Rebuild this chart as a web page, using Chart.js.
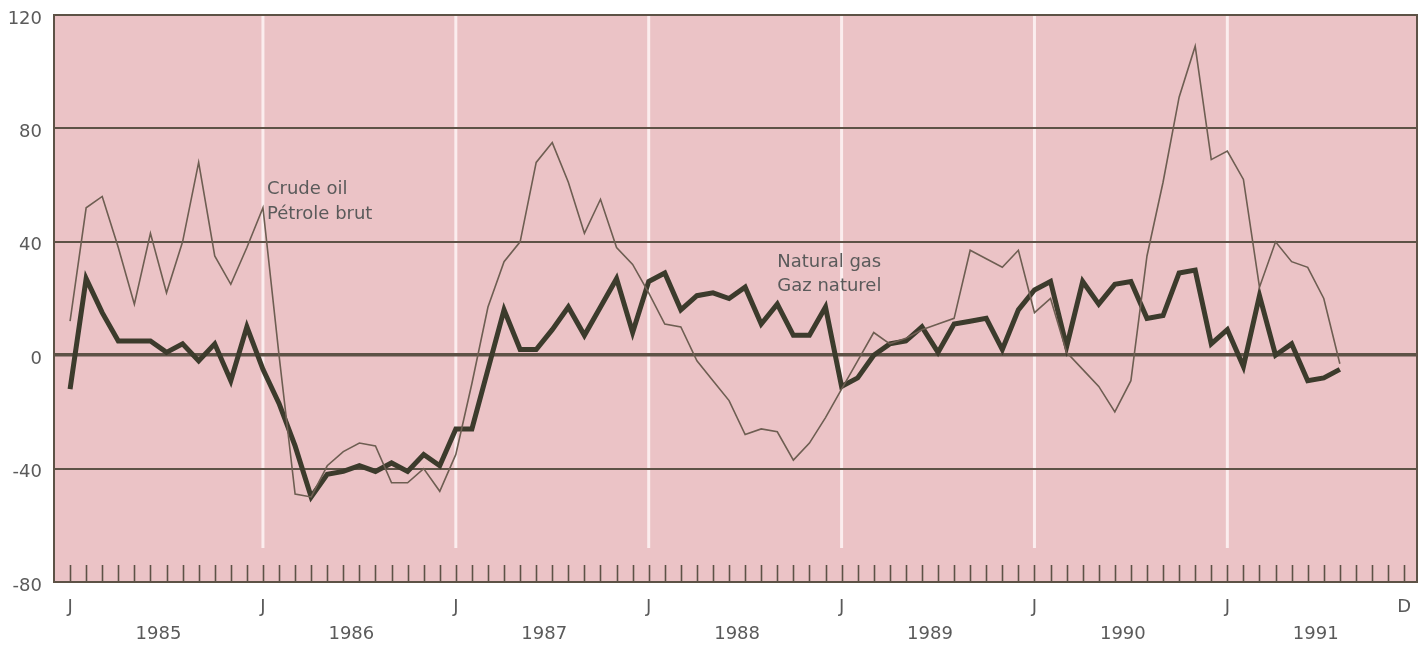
<!DOCTYPE html>
<html>
<head>
<meta charset="utf-8">
<script src="https://cdn.jsdelivr.net/npm/chart.js@4.4.0/dist/chart.umd.min.js"></script>
<style>
  html, body { margin: 0; padding: 0; background: #fff; }
  #chart { display: block; }
</style>
</head>
<body>
<canvas id="chart" width="1424" height="645"></canvas>
<script>
// Monthly values, January 1985 onwards
const crudeOil = [12, 52, 56, 38, 18, 43, 22, 40, 68, 35, 25, 38,
  52, 0, -49, -50, -39, -34, -31, -32, -45, -45, -40, -48,
  -35, -10, 17, 33, 40, 68, 75, 61, 43, 55, 38, 32,
  22, 11, 10, -2, -9, -16, -28, -26, -27, -37, -31, -22,
  -12, -2, 8, 4, 6, 9, 11, 13, 37, 34, 31, 37,
  15, 20, 1, -5, -11, -20, -9, 35, 61, 91, 109, 69,
  72, 62, 24, 40, 33, 31, 20, -3];
const naturalGas = [-12, 27, 15, 5, 5, 5, 1, 4, -2, 4, -9, 10,
  -5, -17, -32, -50, -42, -41, -39, -41, -38, -41, -35, -39,
  -26, -26, -5, 16, 2, 2, 9, 17, 7, 17, 27, 8,
  26, 29, 16, 21, 22, 20, 24, 11, 18, 7, 7, 17,
  -11, -8, 0, 4, 5, 10, 1, 11, 12, 13, 2, 16,
  23, 26, 3, 26, 18, 25, 26, 13, 14, 29, 30, 4,
  9, -4, 21, 0, 4, -9, -8, -5];
const years = ["1985", "1986", "1987", "1988", "1989", "1990", "1991"];
const monthTicks = ["J", "D"];
const yTicks = [-80, -40, 0, 40, 80, 120];

const MONTHS = years.length * 12;
const ink = "#5d5246";
const textColor = "#5a5a5a";
const font = { family: "'DejaVu Sans', sans-serif", size: 18 };

const toPoints = (arr) => arr.map((v, i) => ({ x: i, y: v }));

// keep the plot box fixed: no extra room reserved for overhanging labels
const noPad = (s) => {
  s.paddingTop = 0;
  s.paddingBottom = 0;
  s.paddingLeft = 0;
  s.paddingRight = 0;
};

// pink plot area, January stripes, month ruler, frame and series captions
const decor = {
  id: "decor",
  beforeDraw(chart) {
    const { ctx, chartArea: a, scales } = chart;
    ctx.save();
    ctx.fillStyle = "#fff";
    ctx.fillRect(0, 0, chart.width, chart.height);
    ctx.fillStyle = "#ebc3c6";
    ctx.fillRect(a.left, a.top, a.right - a.left, a.bottom - a.top);
    ctx.strokeStyle = "rgba(255,248,248,0.8)";
    ctx.lineWidth = 3;
    const yEnd = scales.y.getPixelForValue(-68);
    for (let m = 12; m < MONTHS; m += 12) {
      const px = scales.x.getPixelForValue(m);
      ctx.beginPath();
      ctx.moveTo(px, a.top);
      ctx.lineTo(px, yEnd);
      ctx.stroke();
    }
    ctx.restore();
  },
  beforeDatasetsDraw(chart) {
    const { ctx, chartArea: a, scales } = chart;
    ctx.save();
    ctx.strokeStyle = ink;
    ctx.lineWidth = 1.6;
    for (let m = 0; m < MONTHS; m++) {
      const px = Math.round(scales.x.getPixelForValue(m)) + 0.5;
      ctx.beginPath();
      ctx.moveTo(px, a.bottom - 17);
      ctx.lineTo(px, a.bottom);
      ctx.stroke();
    }
    ctx.lineWidth = 2;
    ctx.strokeRect(a.left, a.top, a.right - a.left, a.bottom - a.top);
    ctx.restore();
  },
  afterDatasetsDraw(chart) {
    const { ctx, scales } = chart;
    ctx.save();
    ctx.fillStyle = textColor;
    ctx.font = "18px 'DejaVu Sans', sans-serif";
    ctx.textBaseline = "alphabetic";
    let px = scales.x.getPixelForValue(12.25);
    let py = scales.y.getPixelForValue(57);
    ctx.fillText("Crude oil", px, py);
    ctx.fillText("Pétrole brut", px, py + 25);
    px = scales.x.getPixelForValue(44);
    py = scales.y.getPixelForValue(31);
    ctx.fillText("Natural gas", px, py);
    ctx.fillText("Gaz naturel", px, py + 24);
    ctx.restore();
  }
};

new Chart(document.getElementById("chart"), {
  type: "line",
  data: {
    datasets: [
      {
        label: "Natural gas",
        data: toPoints(naturalGas),
        borderColor: "#3c3b2c",
        borderWidth: 5,
        borderJoinStyle: "miter",
        pointRadius: 0,
        tension: 0,
        order: 2
      },
      {
        label: "Crude oil",
        data: toPoints(crudeOil),
        borderColor: "#6e5e52",
        borderWidth: 1.6,
        pointRadius: 0,
        tension: 0,
        order: 1
      }
    ]
  },
  options: {
    responsive: false,
    animation: false,
    devicePixelRatio: 1,
    layout: { autoPadding: false, padding: { top: 15, right: 7, left: 0, bottom: 0 } },
    plugins: { legend: { display: false }, tooltip: { enabled: false } },
    scales: {
      x: {
        type: "linear",
        position: "bottom",
        min: -1,
        max: 83.8,
        grid: { display: false, drawTicks: false },
        border: { display: false },
        afterFit: (s) => { s.height = 40; noPad(s); },
        afterBuildTicks: (s) => {
          const t = [];
          for (let m = 0; m < MONTHS; m += 12) t.push({ value: m });
          t.push({ value: MONTHS - 1 });
          s.ticks = t;
        },
        ticks: {
          autoSkip: false,
          maxRotation: 0,
          padding: 15,
          color: textColor,
          font,
          callback: (v) => (v === MONTHS - 1 ? monthTicks[1] : monthTicks[0])
        }
      },
      years: {
        type: "linear",
        position: "bottom",
        min: -1,
        max: 83.8,
        grid: { display: false, drawTicks: false },
        border: { display: false },
        afterFit: (s) => { s.height = 23; noPad(s); },
        afterBuildTicks: (s) => {
          s.ticks = years.map((_, k) => ({ value: k * 12 + 5.5 }));
        },
        ticks: {
          autoSkip: false,
          maxRotation: 0,
          padding: 2,
          color: textColor,
          font,
          callback: (v) => years[Math.round((v - 5.5) / 12)]
        }
      },
      y: {
        min: -80,
        max: 120,
        afterFit: (s) => { s.width = 54; noPad(s); },
        afterBuildTicks: (s) => { s.ticks = yTicks.map((v) => ({ value: v })); },
        grid: {
          drawTicks: false,
          color: ink,
          lineWidth: (c) => (c.tick && c.tick.value === 0 ? 3.5 : 2)
        },
        border: { display: true, color: ink, width: 2 },
        ticks: {
          padding: 12,
          labelOffset: 4,
          color: textColor,
          font
        }
      }
    }
  },
  plugins: [decor]
});
</script>
</body>
</html>
